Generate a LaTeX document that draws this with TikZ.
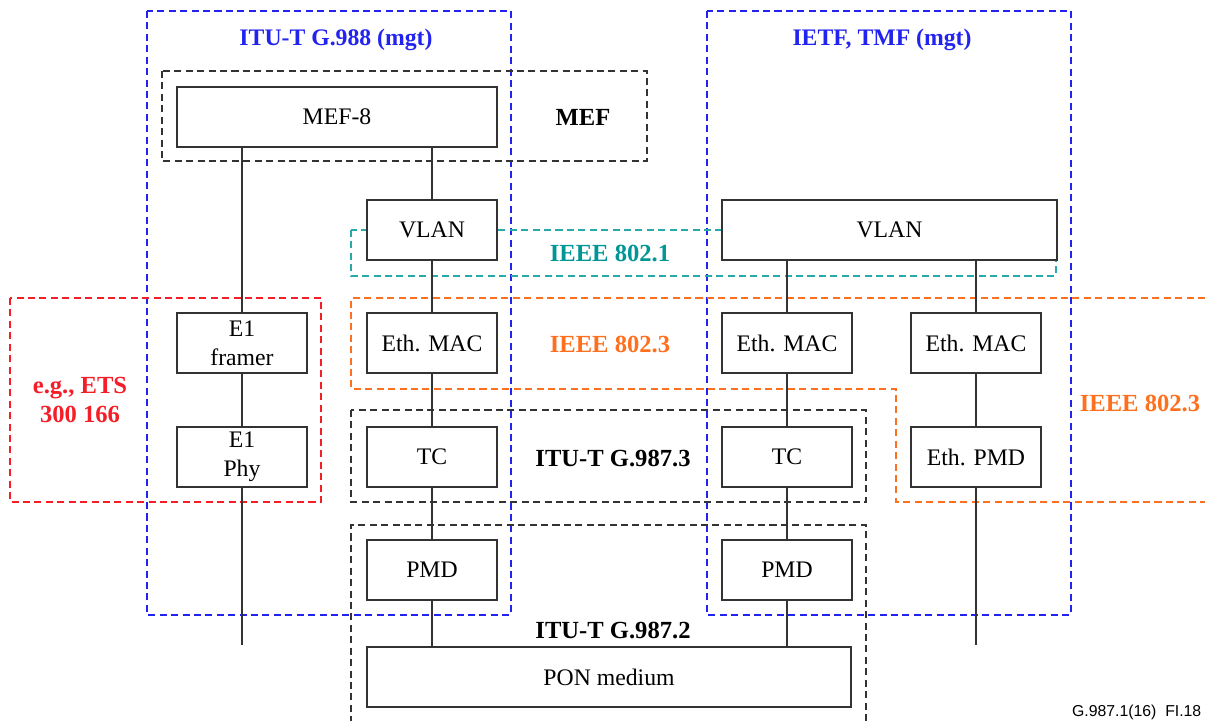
\documentclass[tikz,border=0pt]{standalone}
\usepackage{fontspec}
\setmainfont{Liberation Serif}
\newfontfamily\figfont{Liberation Sans}
\definecolor{mgtblue}{RGB}{35,35,240}
\definecolor{ieeeteal}{RGB}{40,170,170}
\definecolor{ieeetealtext}{RGB}{0,150,150}
\definecolor{ieeeorange}{RGB}{255,112,30}
\definecolor{etsred}{RGB}{245,30,40}
\begin{document}
\begin{tikzpicture}[x=0.02cm, y=-0.02cm, line width=0.8pt, draw=black!80,
  box/.style={draw=black!80, fill=white, inner sep=0pt, minimum width=2.6cm, minimum height=1.2cm, align=center, font=\fontsize{13.5}{16.5}\selectfont},
  area/.style={dash pattern=on 4pt off 2.5pt, line width=0.7pt},
  lbl/.style={font=\bfseries\fontsize{14}{16}\selectfont, align=center},
  mgtlbl/.style={font=\bfseries\fontsize{13.5}{16}\selectfont, mgtblue}]
\useasboundingbox (0,0) rectangle (1205,721);
% dashed areas
\draw[area, mgtblue] (147,11) rectangle (511,615);
\draw[area, mgtblue] (707,11) rectangle (1071,615);
\draw[area, black!80] (162,71) rectangle (647,161);
\draw[area, ieeeteal] (351,230) rectangle (1056,276);
\draw[area, ieeeorange] (1205,298) -- (351,298) -- (351,389) -- (896,389) -- (896,502) -- (1205,502);
\draw[area, etsred] (10,298) rectangle (321,502);
\draw[area, black!80] (351,410) rectangle (866,502);
\draw[area, black!80] (866,721) -- (866,525) -- (351,525) -- (351,721);
% area labels
\node[mgtlbl] (L_g988) at (336,40) {ITU-T G.988 (mgt)};
\node[mgtlbl] (L_ietf) at (882,40) {IETF, TMF (mgt)};
\node[lbl] (L_mef) at (583,117) {MEF};
\node[lbl, ieeetealtext] (L_8021) at (610,253) {IEEE 802.1};
\node[lbl, ieeeorange] (L_8023a) at (610,344) {IEEE 802.3};
\node[lbl, ieeeorange] (L_8023b) at (1140,403) {IEEE 802.3};
\node[lbl, etsred] (L_ets) at (80,400) {e.g., ETS\\300 166};
\node[lbl] (L_9873) at (613,458) {ITU-T G.987.3};
\node[lbl] (L_9872) at (613,630) {ITU-T G.987.2};
\node[font=\figfont\fontsize{9}{10}\selectfont, anchor=east, inner sep=0pt] (L_fig) at (1202,712) {G.987.1(16)\ \ FI.18};
% boxes
\node[box, minimum width=6.4cm] (P_0_0) at (337,117) {MEF-8};
\node[box] (P_1_1) at (432,230) {VLAN};
\node[box, minimum width=6.7cm] (P_2_1) at (889.5,230) {VLAN};
\node[box] (P_0_2) at (242,343) {E1\\framer};
\node[box] (P_1_2) at (432,343) {Eth. MAC};
\node[box] (P_2_2) at (787,343) {Eth. MAC};
\node[box] (P_3_2) at (976,343) {Eth. MAC};
\node[box] (P_0_3) at (242,457) {E1\\Phy};
\node[box] (P_1_3) at (432,457) {TC};
\node[box] (P_2_3) at (787,457) {TC};
\node[box] (P_3_3) at (976,457) {Eth. PMD};
\node[box] (P_1_4) at (432,570) {PMD};
\node[box] (P_2_4) at (787,570) {PMD};
\node[box, minimum width=9.68cm] (P_1_5) at (609,677) {PON medium};
\coordinate (E_0) at (242,645);
\coordinate (E_3) at (976,645);
% connectors
\draw (P_0_0.south -| P_0_2) -- (P_0_2);
\draw (P_0_2) -- (P_0_3);
\draw (P_0_3) -- (E_0);
\draw (P_0_0.south -| P_1_1) -- (P_1_1);
\draw (P_1_1) -- (P_1_2);
\draw (P_1_2) -- (P_1_3);
\draw (P_1_3) -- (P_1_4);
\draw (P_1_4) -- (P_1_4 |- P_1_5.north);
\draw (P_2_1.south -| P_2_2) -- (P_2_2);
\draw (P_2_2) -- (P_2_3);
\draw (P_2_3) -- (P_2_4);
\draw (P_2_4) -- (P_2_4 |- P_1_5.north);
\draw (P_2_1.south -| P_3_2) -- (P_3_2);
\draw (P_3_2) -- (P_3_3);
\draw (P_3_3) -- (E_3);
\end{tikzpicture}
\end{document}
